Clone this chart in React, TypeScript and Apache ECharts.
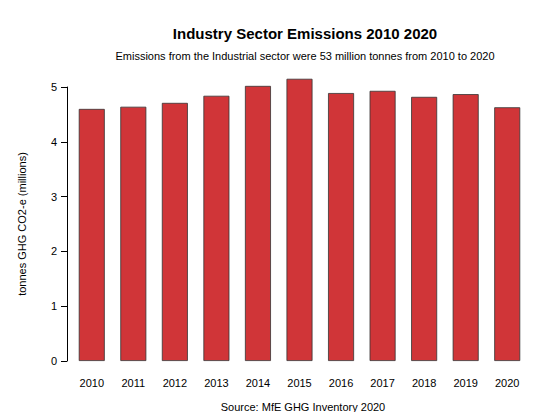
import React, { useEffect, useRef } from "react";
import * as echarts from "echarts";

const years = ["2010","2011","2012","2013","2014","2015","2016","2017","2018","2019","2020"];
const values = [4.6, 4.64, 4.71, 4.84, 5.02, 5.15, 4.89, 4.93, 4.82, 4.87, 4.63];

export default function App() {
  const ref = useRef<HTMLDivElement>(null);
  useEffect(() => {
    const chart = echarts.init(ref.current!, null, { renderer: "svg" });
    const font = "Liberation Sans";
    chart.setOption({
      animation: false,
      textStyle: { fontFamily: font },
      title: [
        { text: "Industry Sector Emissions 2010 2020", left: 292, textAlign: "center", top: 13, textStyle: { fontSize: 15, fontWeight: "bold", color: "#000", fontFamily: font } },
        { text: "Emissions from the Industrial sector were 53 million tonnes from 2010 to 2020", left: 292, textAlign: "center", top: 37, textStyle: { fontSize: 11, fontWeight: "normal", color: "#000", fontFamily: font } },
        { text: "Source: MfE GHG Inventory 2020", left: 290, textAlign: "center", top: 388, textStyle: { fontSize: 11, fontWeight: "normal", color: "#000", fontFamily: font } },
      ],
      grid: { left: 58, width: 462, top: 79, height: 274 },
      xAxis: {
        type: "category", data: years,
        axisLine: { show: false }, axisTick: { show: false },
        axisLabel: { color: "#000", fontSize: 11, margin: 16, fontFamily: font },
      },
      yAxis: {
        type: "value", min: 0, max: 5, interval: 1, offset: 4,
        name: "tonnes GHG CO2-e (millions)", nameLocation: "middle", nameGap: 40,
        nameTextStyle: { color: "#000", fontSize: 11, fontFamily: font },
        axisLine: { show: true, lineStyle: { color: "#000" } },
        axisTick: { show: true, length: 6, lineStyle: { color: "#000" } },
        axisLabel: { color: "#000", fontSize: 11, margin: 10, fontFamily: font },
        splitLine: { show: false },
      },
      series: [{
        type: "bar", data: values, barWidth: 26, clip: false,
        itemStyle: { color: "#d03538", borderColor: "#333", borderWidth: 0.8 },
      }],
    });
    return () => chart.dispose();
  }, []);
  return <div ref={ref} style={{ width: 544, height: 404 }} />;
}
